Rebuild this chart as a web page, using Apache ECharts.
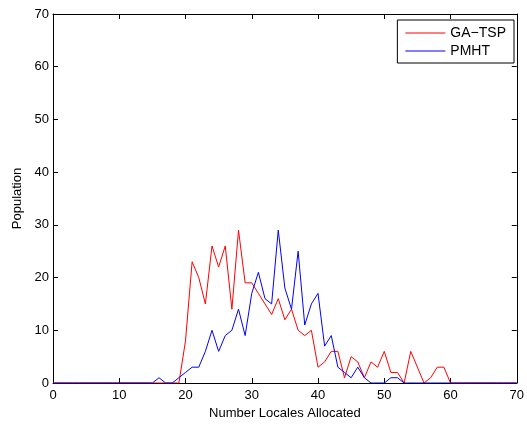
<!DOCTYPE html>
<html>
<head>
<meta charset="utf-8">
<script src="https://cdn.jsdelivr.net/npm/echarts@6/dist/echarts.min.js"></script>
<style>
  html, body { margin: 0; padding: 0; background: #fff; }
  #chart { width: 527px; height: 425px; }
</style>
</head>
<body>
<div id="chart"></div>
<script>
// Number of locales allocated (x) and population counts for each method
const locales = [];
for (let i = 0; i <= 70; i++) locales.push(i);

const gaTsp = [
  0, 0, 0, 0, 0, 0, 0, 0, 0, 0,
  0, 0, 0, 0, 0, 0, 0, 0, 0, 0,
  8, 23, 20, 15, 26, 22, 26, 14, 29, 19,
  19, 17, 15, 13, 16, 12, 14, 10, 9, 10,
  3, 4, 6, 6, 1, 5, 4, 1, 4, 3,
  6, 2, 2, 0, 6, 3, 0, 1, 3, 3,
  0, 0, 0, 0, 0, 0, 0, 0, 0, 0,
  0
];

const pmht = [
  0, 0, 0, 0, 0, 0, 0, 0, 0, 0,
  0, 0, 0, 0, 0, 0, 1, 0, 0, 1,
  2, 3, 3, 6, 10, 6, 9, 10, 14, 9,
  17, 21, 16, 15, 29, 18, 14, 25, 11, 15,
  17, 7, 9, 3, 2, 1, 3, 1, 0, 0,
  0, 1, 1, 0, 0, 0, 0, 0, 0, 0,
  0, 0, 0, 0, 0, 0, 0, 0, 0, 0,
  0
];

const xTicks = [0, 10, 20, 30, 40, 50, 60, 70];
const yTicks = [0, 10, 20, 30, 40, 50, 60, 70];

const font = 'Liberation Sans, Arial, Helvetica, sans-serif';

const pairs = (ys) => locales.map((x, i) => [x, ys[i]]);

// Boxed frame: every side gets an axis line with inward ticks
function frameAxis(position, extra) {
  const ax = {
    type: 'value',
    position: position,
    min: 0, max: 70, interval: 10,
    axisLine: { show: true, onZero: false, lineStyle: { color: '#000', width: 1 } },
    axisTick: { show: true, inside: true, length: 5, lineStyle: { color: '#000', width: 1 } },
    splitLine: { show: false },
    axisLabel: { show: false }
  };
  return Object.assign(ax, extra || {});
}

const chart = echarts.init(document.getElementById('chart'), null, { renderer: 'canvas' });
chart.setOption({
  animation: false,
  backgroundColor: '#fff',
  grid: { left: 53, right: 6, top: 14, bottom: 42, containLabel: false },
  legend: {
    orient: 'vertical',
    right: 13,
    top: 20,
    padding: [5, 8, 4, 8],
    itemGap: 2,
    itemWidth: 40,
    itemHeight: 1,
    icon: 'rect',
    backgroundColor: '#fff',
    borderColor: '#000',
    borderWidth: 1,
    borderRadius: 0,
    textStyle: { fontFamily: font, fontSize: 14, color: '#000', lineHeight: 16 },
    data: ['GA\u2212TSP', 'PMHT']
  },
  xAxis: [
    frameAxis('bottom', {
      name: 'Number Locales Allocated', nameLocation: 'middle', nameGap: 24,
      nameTextStyle: { fontFamily: font, fontSize: 13, color: '#000' },
      axisLabel: {
        show: true, fontFamily: font, fontSize: 13, color: '#000', margin: 6,
        formatter: (v) => (xTicks.includes(v) ? String(v) : '')
      }
    }),
    frameAxis('top')
  ],
  yAxis: [
    frameAxis('left', {
      name: 'Population', nameLocation: 'middle', nameGap: 27, nameRotate: 90,
      nameTextStyle: { fontFamily: font, fontSize: 13, color: '#000' },
      axisLabel: {
        show: true, fontFamily: font, fontSize: 13, color: '#000', margin: 4,
        formatter: (v) => (yTicks.includes(v) ? String(v) : '')
      }
    }),
    frameAxis('right')
  ],
  series: [
    {
      name: 'GA\u2212TSP', type: 'line', data: pairs(gaTsp),
      symbol: 'none', lineStyle: { color: '#ff0000', width: 1 },
      itemStyle: { color: '#ff0000' }, z: 2
    },
    {
      name: 'PMHT', type: 'line', data: pairs(pmht),
      symbol: 'none', lineStyle: { color: '#0000ff', width: 1 },
      itemStyle: { color: '#0000ff' }, z: 3
    }
  ]
});
</script>
</body>
</html>
